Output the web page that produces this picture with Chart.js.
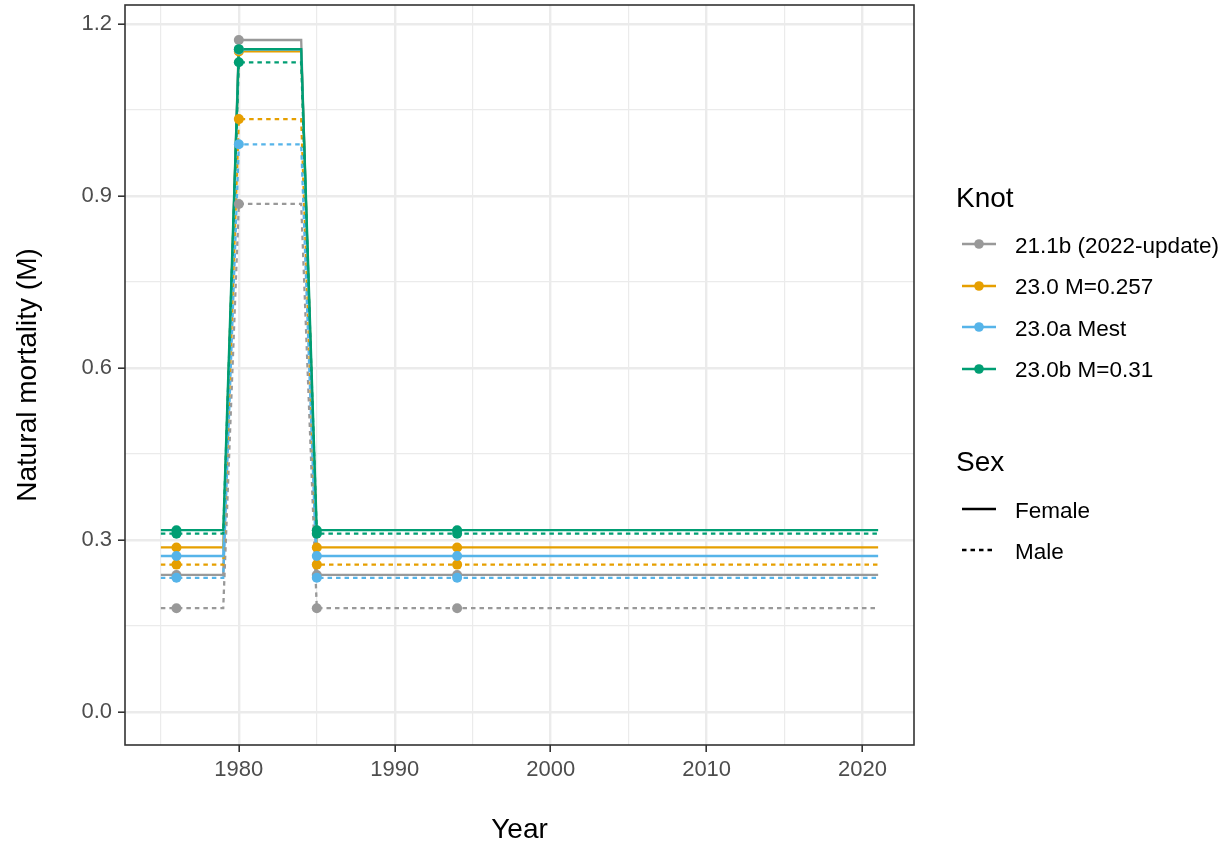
<!DOCTYPE html>
<html><head><meta charset="utf-8">
<script src="https://cdn.jsdelivr.net/npm/chart.js@4"></script>
<style>
html,body{margin:0;padding:0;background:#fff;}
#wrap{position:relative;width:1232px;height:851px;font-family:"Liberation Sans",Arial,sans-serif;overflow:hidden;}
canvas{position:absolute;left:0;top:0;}
.lg{position:absolute;white-space:nowrap;color:#000;}
.lg svg{position:absolute;}
</style></head><body>
<div id="wrap"><canvas id="c" width="1232" height="851"></canvas><div id="legend"></div></div>
<script>
// ---- data ----
const years = [1975, 1976, 1979, 1980, 1984, 1985, 1994, 2021];
const knotYears = [1976, 1980, 1985, 1994];
const models = ['21.1b (2022-update)', '23.0 M=0.257', '23.0a Mest', '23.0b M=0.31'];
const modelColors = ['#999999', '#E69F00', '#56B4E9', '#009E73'];
const sexes = ['Female', 'Male'];
const m211b_F = [0.239, 0.239, 0.239, 1.172, 1.172, 0.239, 0.239, 0.239];
const m211b_M = [0.181, 0.181, 0.181, 0.886, 0.886, 0.181, 0.181, 0.181];
const m230_F  = [0.287, 0.287, 0.287, 1.152, 1.152, 0.287, 0.287, 0.287];
const m230_M  = [0.257, 0.257, 0.257, 1.034, 1.034, 0.257, 0.257, 0.257];
const m230a_F = [0.272, 0.272, 0.272, 1.155, 1.155, 0.272, 0.272, 0.272];
const m230a_M = [0.234, 0.234, 0.234, 0.990, 0.990, 0.234, 0.234, 0.234];
const m230b_F = [0.317, 0.317, 0.317, 1.156, 1.156, 0.317, 0.317, 0.317];
const m230b_M = [0.311, 0.311, 0.311, 1.133, 1.133, 0.311, 0.311, 0.311];
const xTicks = [1980, 1990, 2000, 2010, 2020];
const xMinor = [1975, 1985, 1995, 2005, 2015];
const yTicks = [0.0, 0.3, 0.6, 0.9, 1.2];
const yMinor = [0.15, 0.45, 0.75, 1.05];

const seriesByModel = [[m211b_F, m211b_M], [m230_F, m230_M], [m230a_F, m230a_M], [m230b_F, m230b_M]];

// ---- build datasets ----
const datasets = [];
let drawIdx = 0;
models.forEach((m, mi) => {
  sexes.forEach((s, si) => {
    const vals = seriesByModel[mi][si];
    datasets.push({
      label: m + ' ' + s,
      data: years.map((yr, i) => ({x: yr, y: vals[i]})),
      borderColor: modelColors[mi],
      backgroundColor: modelColors[mi],
      borderWidth: 2.3,
      borderDash: s === 'Male' ? [4.5, 4] : [],
      pointRadius: 0,
      tension: 0,
      fill: false,
      order: 100 - (drawIdx++)
    });
  });
});
models.forEach((m, mi) => {
  sexes.forEach((s, si) => {
    const vals = seriesByModel[mi][si];
    datasets.push({
      label: m + ' ' + s + ' knots',
      data: knotYears.map(yr => ({x: yr, y: vals[years.indexOf(yr)]})),
      showLine: false,
      pointRadius: 5,
      pointBorderWidth: 0,
      pointBackgroundColor: modelColors[mi],
      borderColor: modelColors[mi],
      order: 100 - (drawIdx++)
    });
  });
});

const isIn = (arr, v) => arr.some(a => Math.abs(a - v) < 1e-6);
const gridColor = '#EBEBEB';

const borderPlugin = {
  id: 'panelBorder',
  afterDatasetsDraw(chart) {
    const {ctx, chartArea: a} = chart;
    ctx.save();
    ctx.strokeStyle = '#333333';
    ctx.lineWidth = 1.6;
    ctx.strokeRect(a.left, a.top, a.right - a.left, a.bottom - a.top);
    ctx.restore();
  }
};

new Chart(document.getElementById('c'), {
  type: 'line',
  data: {datasets},
  plugins: [borderPlugin],
  options: {
    responsive: false,
    animation: false,
    events: [],
    layout: {padding: {top: 5, right: 318, left: 0, bottom: 0}},
    plugins: {legend: {display: false}, tooltip: {enabled: false}},
    scales: {
      x: {
        type: 'linear',
        min: 1972.7, max: 2023.3,
        afterBuildTicks: s => { s.ticks = [...xTicks, ...xMinor].sort((a, b) => a - b).map(v => ({value: v})); },
        afterFit: s => { s.height = 106; s.paddingLeft = 0; s.paddingRight = 0; },
        ticks: {
          autoSkip: false, maxRotation: 0, padding: 5,
          font: {family: '"Liberation Sans", Arial, sans-serif', size: 22, lineHeight: 1.2},
          color: '#4D4D4D',
          callback: v => isIn(xTicks, v) ? String(v) : ''
        },
        grid: {
          color: gridColor,
          lineWidth: c => isIn(xTicks, c.tick.value) ? 2.4 : 1.2,
          tickLength: 7,
          tickColor: c => isIn(xTicks, c.tick.value) ? '#333333' : 'rgba(0,0,0,0)',
          tickWidth: 1.6
        },
        border: {display: false},
        title: {
          display: true, text: 'Year', color: '#000',
          font: {family: '"Liberation Sans", Arial, sans-serif', size: 28, lineHeight: 1.2},
          padding: {top: 0, bottom: 3.5}
        }
      },
      y: {
        type: 'linear',
        min: -0.0576, max: 1.233,
        afterBuildTicks: s => { s.ticks = [...yTicks, ...yMinor].sort((a, b) => a - b).map(v => ({value: v})); },
        afterFit: s => { s.width = 125; s.paddingTop = 0; s.paddingBottom = 0; },
        ticks: {
          autoSkip: false, padding: 6,
          font: {family: '"Liberation Sans", Arial, sans-serif', size: 22, lineHeight: 1.2},
          color: '#4D4D4D',
          callback: v => isIn(yTicks, v) ? v.toFixed(1) : ''
        },
        grid: {
          color: gridColor,
          lineWidth: c => isIn(yTicks, c.tick.value) ? 2.4 : 1.2,
          tickLength: 7,
          tickColor: c => isIn(yTicks, c.tick.value) ? '#333333' : 'rgba(0,0,0,0)',
          tickWidth: 1.6
        },
        border: {display: false},
        title: {
          display: true, text: 'Natural mortality (M)', color: '#000',
          font: {family: '"Liberation Sans", Arial, sans-serif', size: 28, lineHeight: 1.2},
          padding: {top: 11, bottom: 0}
        }
      }
    }
  }
});

// ---- legend (HTML) ----
const lg = document.getElementById('legend');
function addText(text, left, cy, size) {
  const d = document.createElement('div');
  d.className = 'lg';
  d.style.left = left + 'px';
  d.style.top = (cy - 15) + 'px';
  d.style.lineHeight = '30px';
  d.style.fontSize = size + 'px';
  d.textContent = text;
  lg.appendChild(d);
}
function addKey(cy, color, dashed, point) {
  const ns = 'http://www.w3.org/2000/svg';
  const svg = document.createElementNS(ns, 'svg');
  svg.setAttribute('width', 40); svg.setAttribute('height', 20);
  svg.style.position = 'absolute';
  svg.style.left = '960px'; svg.style.top = (cy - 10) + 'px';
  const ln = document.createElementNS(ns, 'line');
  ln.setAttribute('x1', 2); ln.setAttribute('x2', 36);
  ln.setAttribute('y1', 10); ln.setAttribute('y2', 10);
  ln.setAttribute('stroke', color); ln.setAttribute('stroke-width', 2.3);
  if (dashed) ln.setAttribute('stroke-dasharray', '4.5 4');
  svg.appendChild(ln);
  if (point) {
    const c = document.createElementNS(ns, 'circle');
    c.setAttribute('cx', 19); c.setAttribute('cy', 10); c.setAttribute('r', 4.8);
    c.setAttribute('fill', color);
    svg.appendChild(c);
  }
  lg.appendChild(svg);
}
addText('Knot', 956, 198, 28);
const knotY = [244, 285.5, 327, 368.5];
models.forEach((m, i) => { addKey(knotY[i], modelColors[i], false, true); addText(m, 1015, knotY[i] + 1.5, 22.5); });
addText('Sex', 956, 462, 28);
const sexY = [509, 550];
sexes.forEach((s, i) => { addKey(sexY[i], '#000000', s === 'Male', false); addText(s, 1015, sexY[i] + 1.5, 22.5); });
</script>
</body></html>
